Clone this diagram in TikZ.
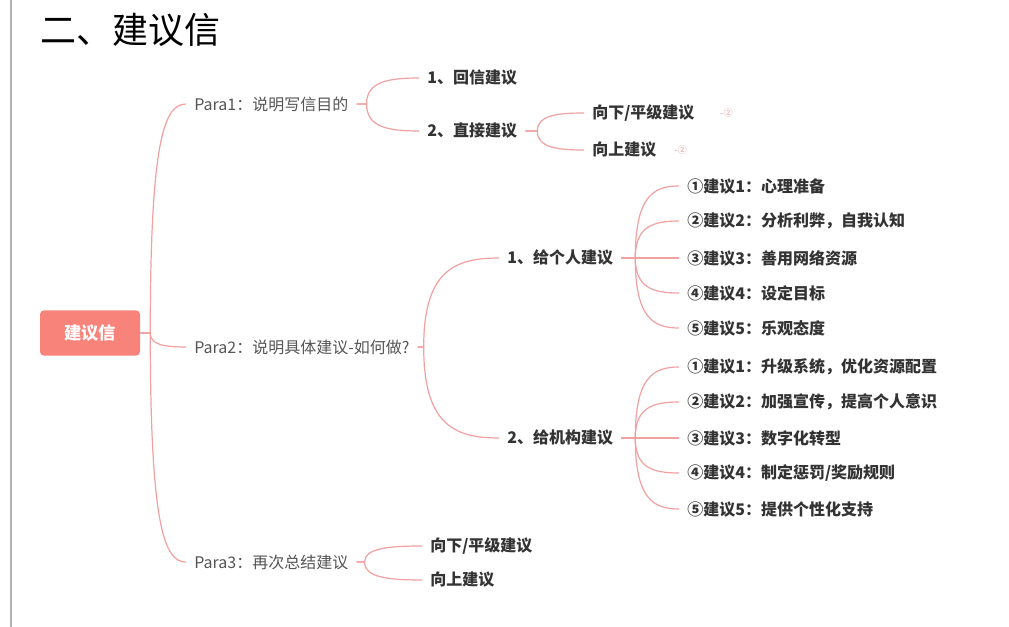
\documentclass[tikz,border=0pt]{standalone}
\usepackage{fontspec}
\setmainfont{Noto Sans CJK SC}
\newfontfamily\lat{Noto Sans}
\begin{document}
\begin{tikzpicture}[x=0.75pt,y=-0.75pt,
  br/.style={draw=brc,line width=0.9pt},
  p1/.style={anchor=west,inner xsep=6,inner ysep=2,text=txg,font=\fontsize{12}{14}\selectfont},
  lv/.style={anchor=west,inner xsep=6,inner ysep=2,text=txd,font=\fontsize{12}{14}\selectfont\bfseries},
  mk/.style={anchor=west,inner sep=0,text=brc,font=\fontsize{7}{8}\selectfont}]
\definecolor{brc}{HTML}{F2A0A0}
\definecolor{txg}{HTML}{555555}
\definecolor{txd}{HTML}{333333}
\definecolor{rootc}{HTML}{F8837B}
\useasboundingbox (0,0) rectangle (1009,627);
\fill[white] (0,0) rectangle (1009,627);
\draw[gray!60,line width=1pt] (11,0) -- (11,627);
\node[anchor=west,inner sep=0,font=\fontsize{27}{30}\selectfont] (title) at (40,30) {二、建议信};
\node[fill=rootc,rounded corners=3,minimum width=75pt,minimum height=34pt,text=white,font=\fontsize{13}{15}\selectfont\bfseries] (root) at (90,333) {建议信};
\newcommand\brr[3]{\foreach \c in {#3}{\draw[br] (#1.east) -- ++(#2,0) coordinate (f) .. controls ($(f)!0.85!(f |- \c.west)$) and ($(f |- \c.west)!0.4!(\c.west)$) .. (\c.west);}}
\usetikzlibrary{calc}
% level 1
\node[p1] (a) at (186,104) {Para1：说明写信目的};
\node[p1] (b) at (186,347) {Para2：说明具体建议-如何做?};
\node[p1] (c) at (186,562) {Para3：再次总结建议};
% Para1
\node[lv] (a1) at (419,78) {1、回信建议};
\node[lv] (a2) at (419,131) {2、直接建议};
\node[lv] (a21) at (584,113) {向下/平级建议};
\node[lv] (a22) at (584,150) {向上建议};
\node[mk] at (720,113) {-②};
\node[mk] at (674,150) {-②};
% Para2
\node[lv] (b1) at (499,258) {1、给个人建议};
\node[lv] (b2) at (499,438) {2、给机构建议};
\node[lv] (b11) at (679,186) {①建议1：心理准备};
\node[lv] (b12) at (679,221) {②建议2：分析利弊，自我认知};
\node[lv] (b13) at (679,258) {③建议3：善用网络资源};
\node[lv] (b14) at (679,293) {④建议4：设定目标};
\node[lv] (b15) at (679,328) {⑤建议5：乐观态度};
\node[lv] (b21) at (679,367) {①建议1：升级系统，优化资源配置};
\node[lv] (b22) at (679,402) {②建议2：加强宣传，提高个人意识};
\node[lv] (b23) at (679,438) {③建议3：数字化转型};
\node[lv] (b24) at (679,473) {④建议4：制定惩罚/奖励规则};
\node[lv] (b25) at (679,509) {⑤建议5：提供个性化支持};
% Para3
\node[lv] (c1) at (422,546) {向下/平级建议};
\node[lv] (c2) at (422,580) {向上建议};
\brr{root}{10}{a,b,c}
\brr{a}{10}{a1,a2}
\brr{a2}{12}{a21,a22}
\brr{b}{6}{b1,b2}
\brr{b1}{14}{b11,b12,b13,b14,b15}
\brr{b2}{14}{b21,b22,b23,b24,b25}
\brr{c}{8}{c1,c2}
\end{tikzpicture}
\end{document}
